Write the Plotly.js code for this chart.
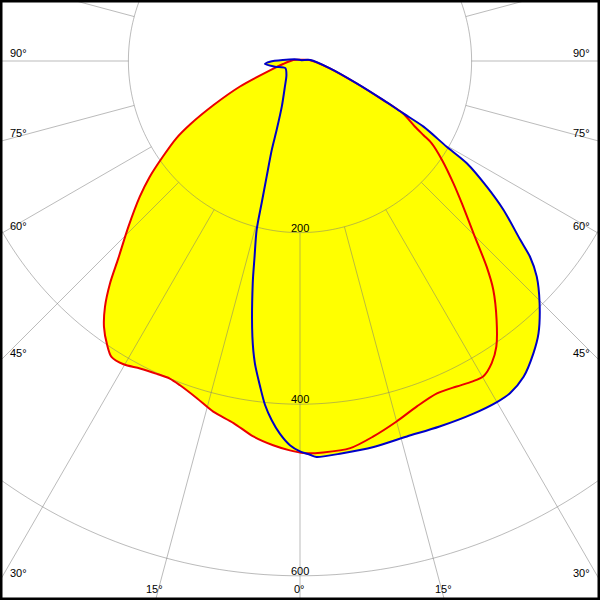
<!DOCTYPE html>
<html>
<head>
<meta charset="utf-8">
<script src="https://cdn.plot.ly/plotly-3.0.1.min.js"></script>
<style>
html, body { margin:0; padding:0; width:600px; height:600px; overflow:hidden; background:#fff; }
#chart { position:absolute; }
</style>
</head>
<body>
<div id="chart"></div>
<script>
// Plane C0-C180 (red), gamma in degrees (negative = left half), intensity in cd/klm
const redGamma = [-120, -98, -80, -73, -67, -63, -60, -58, -55, -52.4, -49.7, -46, -42.6, -40.5, -38.4, -36.4, -34.2, -32.5, -30.2, -27.5, -24.6, -22.3, -20.3, -17, -13.9, -10.4, -7.1, -4, -1.5, 0.5, 3.4, 7.4, 11, 15, 18.7, 22.4, 25.7, 28.2, 30.2, 32.4, 34.5, 37.2, 40.2, 42.2, 45.2, 48.7, 51.4, 55.1, 58, 59, 60.3, 63.1, 64.9, 68.5, 76.3, 95.7, 120];
const redIntensity = [3, 8, 20, 36, 76, 113, 148, 170, 196, 221, 245, 278, 313, 341, 366, 385, 400, 409, 409, 404, 401, 400, 403, 411, 421, 429, 441, 449, 454, 457, 457, 455, 446, 435, 425, 419, 421, 424, 425, 417, 404, 379, 349, 324, 285, 251, 229, 202, 181, 168, 154, 134, 106, 70, 35, 11, 3];

// Plane C90-C270 (blue)
const blueGamma = [-117, -93.4, -88.7, -85.1, -77.2, -64, -43.5, -30.3, -21.8, -18.7, -17.6, -16.1, -15.1, -14.4, -13, -12, -9.8, -8.5, -7, -5.8, -4.5, -3.1, -1.5, 0, 1.45, 2.4, 5.8, 10.8, 15.9, 20.9, 26.2, 30, 32.3, 35.3, 38.6, 41.2, 44.7, 47.7, 49.6, 50.9, 53.8, 56.1, 58.5, 59.7, 62, 63.1, 64.9, 68.5, 76.3, 95.7, 120];
const blueIntensity = [4, 20, 35, 41, 30, 19, 23, 35, 57, 85, 109, 140, 172, 203, 236, 265, 326, 356, 382, 403, 420, 435, 448, 455, 459, 462, 460, 458, 455, 456, 458, 459, 458, 451, 436, 422, 397, 373, 352, 331, 294, 262, 228, 198, 163, 135, 107, 71, 36, 12, 2];

// Grid and labels
const ringValues = [200, 400, 600];
const ringLabels = ["200", "400", "600"];
const rayAngles = [0, 15, 30, 45, 60, 75, 90, 105, 120, 135, 150, 165, 180, 195, 210, 225, 240, 255, 270, 285, 300, 315, 330, 345];
const angleLabelAngles = [-90, -75, -60, -45, -30, -15, 0, 15, 30, 45, 60, 75, 90];
const angleLabels = ["90°", "75°", "60°", "45°", "30°", "15°", "0°", "15°", "30°", "45°", "60°", "75°", "90°"];

// ---- layout geometry (viewport window onto a large polar diagram) ----
const VIEW = 600;
const SCALE = 0.858;       // px per unit
const CX = 300, CY = 61;   // polar centre inside the viewport
const HALF = 700;          // polar radius in px
const W = 2 * HALF, H = 2 * HALF;
const rMax = HALF / SCALE;
const offX = HALF - CX, offY = HALF - CY;
const el = document.getElementById('chart');
el.style.left = (-offX) + 'px';
el.style.top = (-offY) + 'px';

function toPaper(vx, vy) { return { x: (vx + offX) / W, y: 1 - (vy + offY) / H }; }

const FONT = { family: 'Liberation Sans, Arial, sans-serif', size: 11, color: '#000' };
const GRID = 'rgba(120,120,120,0.5)';

// grid traces
const rayR = [], rayT = [];
rayAngles.forEach(a => { rayR.push(ringValues[0], rMax, null); rayT.push(a, a, null); });
const ringTraces = ringValues.map(v => {
  const th = [], rr = [];
  for (let a = 0; a <= 360; a += 1) { th.push(a); rr.push(v); }
  return { type: 'scatterpolar', mode: 'lines', r: rr, theta: th, line: { color: GRID, width: 1 }, hoverinfo: 'skip', showlegend: false };
});

const fillTrace = (g, i) => ({ type: 'scatterpolar', mode: 'lines', r: i, theta: g, fill: 'toself', fillcolor: '#ffff00', line: { width: 0, shape: 'spline', smoothing: 0.8 }, hoverinfo: 'skip', showlegend: false });
const lineTrace = (g, i, c) => ({ type: 'scatterpolar', mode: 'lines', r: i.concat([i[0]]), theta: g.concat([g[0]]), line: { color: c, width: 2, shape: 'spline', smoothing: 0.8 }, showlegend: false });

const data = [
  fillTrace(redGamma, redIntensity),
  fillTrace(blueGamma, blueIntensity),
  { type: 'scatterpolar', mode: 'lines', r: rayR, theta: rayT, line: { color: GRID, width: 1 }, hoverinfo: 'skip', showlegend: false },
  ...ringTraces,
  lineTrace(redGamma, redIntensity, 'rgb(235,0,0)'),
  lineTrace(blueGamma, blueIntensity, 'rgb(0,0,200)')
];

// annotations
const annotations = [];
angleLabelAngles.forEach((g, k) => {
  const rad = g * Math.PI / 180, sx = Math.sin(rad), cy = Math.cos(rad);
  const tSide = Math.abs(sx) > 1e-9 ? CX / Math.abs(sx) : Infinity;
  const tBot = cy > 1e-9 ? (VIEW - CY) / cy : Infinity;
  let p, xa;
  if (tSide < tBot) {
    const ey = CY + tSide * cy;
    p = toPaper(sx < 0 ? 8 : VIEW - 8, ey - 8);
    xa = sx < 0 ? 'left' : 'right';
  } else {
    const ex = CX + tBot * sx;
    p = toPaper(ex - 1, VIEW - 11);
    xa = 'center';
  }
  annotations.push({ xref: 'paper', yref: 'paper', x: p.x, y: p.y, xanchor: xa, yanchor: 'middle', text: angleLabels[k], showarrow: false, font: FONT });
});
ringValues.forEach((v, k) => {
  const p = toPaper(CX, CY + v * SCALE - 5);
  annotations.push({ xref: 'paper', yref: 'paper', x: p.x, y: p.y, xanchor: 'center', yanchor: 'middle', text: ringLabels[k], showarrow: false, font: FONT });
});

const a = toPaper(0, 0), b = toPaper(VIEW, VIEW);
const layout = {
  width: W, height: H,
  margin: { l: 0, r: 0, t: 0, b: 0 },
  paper_bgcolor: '#fff',
  showlegend: false,
  font: FONT,
  polar: {
    domain: { x: [0, 1], y: [0, 1] },
    bgcolor: '#fff',
    radialaxis: { range: [0, rMax], visible: false, showgrid: false },
    angularaxis: { rotation: 270, direction: 'counterclockwise', visible: false, showgrid: false }
  },
  annotations: annotations,
  shapes: [{ type: 'rect', xref: 'paper', yref: 'paper', x0: a.x, y0: a.y, x1: b.x, y1: b.y, line: { color: '#000', width: 5 }, fillcolor: 'rgba(0,0,0,0)' }]
};

Plotly.newPlot(el, data, layout, { staticPlot: true, displayModeBar: false });
</script>
</body>
</html>
